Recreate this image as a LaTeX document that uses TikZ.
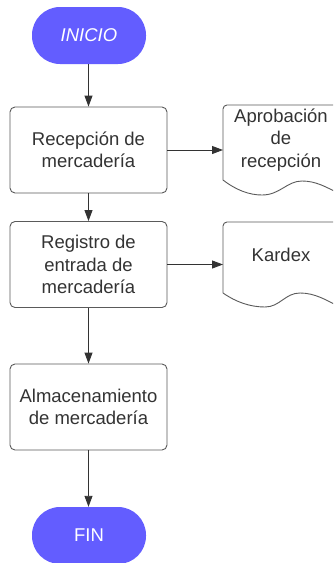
\documentclass[tikz,border=0pt]{standalone}
\usepackage{fontspec}
\setmainfont{Liberation Sans}
\usetikzlibrary{arrows.meta}
\definecolor{term}{RGB}{99,93,255}
\definecolor{txt}{RGB}{51,51,51}
\definecolor{edge}{RGB}{90,90,90}
\begin{document}
\begin{tikzpicture}[x=1pt,y=-1pt,
  every node/.style={font=\fontsize{18.5}{22.5}\selectfont, text=txt, align=center},
  terminal/.style={rectangle, rounded corners=28pt, fill=term, draw=none,
    minimum width=114pt, minimum height=57pt, text=white, inner sep=0pt},
  procbox/.style={rectangle, rounded corners=5pt, draw=edge, line width=0.9pt,
    minimum width=157pt, minimum height=86pt, inner sep=2pt},
  doctext/.style={inner sep=0pt},
  docline/.style={draw=edge, line width=0.9pt},
  conn/.style={draw=txt, line width=0.9pt, -{Triangle[length=11pt,width=8pt]}}]
\clip (0,0) rectangle (333,563);
\fill[white] (0,0) rectangle (333,563);

% terminals
\node[terminal] (ini) at (89,35.5) {\itshape INICIO};
\node[terminal] (fin) at (89,535.5) {FIN};

% process boxes
\node[procbox] (b1) at (88.5,150) {Recepción de\\mercadería};
\node[procbox] (b2) at (88.5,264.5) {Registro de\\entrada de\\mercadería};
\node[procbox] (b3) at (88.5,407) {Almacenamiento\\de mercadería};

% documents
\draw[docline, rounded corners=4pt] (223,180) -- (223,105) -- (340,105) [sharp corners] -- (340,194)
  .. controls (326,187) and (316,181) .. (302,181)
  .. controls (287,181) and (280,195) .. (262,195)
  .. controls (249,195) and (236,190) .. (223,180);
\node[doctext] (d1) at (281,140) {Aprobación\\de\\recepción};
\coordinate (d1in) at (223,150);

\draw[docline, rounded corners=4pt] (223,293) -- (223,222) -- (340,222) [sharp corners] -- (340,307)
  .. controls (326,300) and (315,293) .. (300,293)
  .. controls (285,293) and (280,307) .. (265,307)
  .. controls (250,307) and (236,302) .. (223,293);
\node[doctext] (d2) at (281,255) {Kardex};
\coordinate (d2in) at (223,264.5);

% connectors
\draw[conn] (ini.south -| b1.north) -- (b1.north);
\draw[conn] (b1.east) -- (d1in);
\draw[conn] (b1.south) -- (b2.north);
\draw[conn] (b2.east) -- (d2in);
\draw[conn] (b2.south) -- (b3.north);
\draw[conn] (b3.south) -- (b3.south |- fin.north);
\end{tikzpicture}
\end{document}
